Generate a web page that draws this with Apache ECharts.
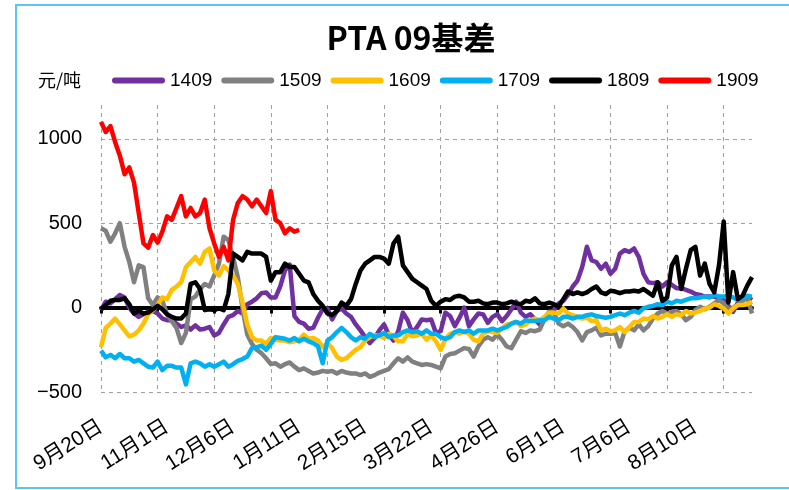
<!DOCTYPE html>
<html lang="zh">
<head>
    <meta charset="UTF-8">
    <title>PTA 09基差</title>
    <script src="https://cdn.jsdelivr.net/npm/echarts/dist/echarts.min.js"></script>
    <style type="text/css">
        *{
            padding: 0px;
            margin: 0px;
            border: 0px;
        }
        #main{
            width: 789px;
            height: 490px;
            background: #fff;
        }
    </style>
</head>
<body>
<div id="main"></div>
<script>

    // 横轴: 按交易日排列, 每14个点标一个日期
    var labelStep = 14;
    var tickStep = 12;
    var tickLabels = ['9月20日', '11月1日', '12月6日', '1月11日', '2月15日', '3月22日', '4月26日', '6月1日', '7月6日', '8月10日'];
    var names = ['1409', '1509', '1609', '1709', '1809', '1909'];
    var colors = ['#7030A0', '#808080', '#FFC000', '#00B0F0', '#000000', '#FF0000'];

    var s1409 = [-15, 35, 25, 50, 75, 60, 0, -35, -55, -40,
        -25, -20, -35, -65, -75, -75, -95, -115, -105, -130,
        -105, -130, -125, -115, -165, -150, -100, -55, -45, -20,
        -35, 20, 35, 55, 85, 90, 60, 60, 125, 220,
        255, -50, -85, -95, -125, -120, -60, -10, -5, -70,
        -20, -5, -35, -55, -100, -135, -175, -210, -180, -135,
        -100, -160, -195, -140, -30, -75, -150, -115, -70, -75,
        -70, -150, -140, -30, -50, -110, -60, 0, -110, -70,
        -35, -40, -90, -55, -40, -80, -50, -10, 35, -30,
        -55, -40, -70, -100, -60, -35, -15, 25, 40, 75,
        125, 160, 240, 360, 280, 270, 230, 260, 200, 230,
        320, 340, 330, 350, 300, 200, 150, 145, 150, 125,
        150, 135, 115, 115, 105, 95, 80, 75, 65, 65,
        65, 55, 45, 10, -25, 30, 65, 65, 45];

    var s1509 = [470, 455, 390, 440, 500, 360, 270, 150, 250, 240,
        55, 15, 60, 40, -40, -80, -120, -210, -150, 50,
        65, 110, 140, 125, 190, 260, 420, 400, 300, 180,
        -5, -160, -215, -250, -270, -300, -335, -330, -350, -335,
        -325, -350, -370, -360, -375, -390, -385, -375, -380, -375,
        -390, -375, -385, -390, -390, -400, -390, -410, -400, -385,
        -375, -365, -330, -300, -320, -295, -320, -330, -340, -335,
        -340, -350, -360, -290, -275, -270, -255, -240, -245, -290,
        -230, -190, -175, -190, -160, -190, -230, -240, -190, -140,
        -150, -135, -140, -130, -70, -25, -30, -95, -110, -95,
        -115, -145, -195, -145, -135, -120, -165, -155, -155, -150,
        -230, -140, -120, -135, -100, -135, -110, -65, -35, -20,
        -35, -25, -20, -40, -75, -55, -15, 5, -10, 5,
        25, 45, 25, -10, 0, 15, 40, 60, -35];

    var s1609 = [-235, -120, -95, -65, -100, -135, -170, -160, -135, -95,
        -40, -15, 15, 60, 50, 105, 125, 150, 240, 270,
        300, 260, 330, 350, 220, 190, 245, 220, 190, 140,
        30, -100, -175, -195, -195, -215, -180, -190, -195, -195,
        -205, -200, -190, -160, -185, -180, -195, -235, -210, -240,
        -290, -310, -300, -275, -250, -235, -195, -175, -165, -165,
        -180, -155, -170, -200, -200, -155, -170, -165, -155, -190,
        -165, -200, -250, -185, -155, -145, -155, -140, -155, -190,
        -200, -155, -140, -145, -150, -125, -100, -95, -85, -110,
        -100, -75, -65, -75, -55, -30, -30, -35, -5, -35,
        -45, -55, -65, -60, -80, -75, -135, -125, -140, -135,
        -115, -145, -115, -85, -85, -65, -70, -50, -65, -55,
        -40, -55, -40, -45, -20, -35, -30, -20, -5, 0,
        20, 10, -5, -35, -5, 15, 15, 20, 35];

    var s1709 = [-255, -295, -280, -300, -275, -300, -300, -320, -310, -330,
        -350, -355, -320, -370, -345, -345, -355, -355, -455, -330,
        -320, -330, -350, -335, -350, -335, -320, -350, -335, -315,
        -305, -290, -240, -235, -225, -250, -215, -175, -180, -185,
        -195, -180, -200, -185, -200, -210, -230, -330, -195, -175,
        -145, -120, -145, -175, -195, -175, -185, -155, -175, -165,
        -150, -175, -165, -165, -145, -135, -145, -140, -155, -135,
        -155, -155, -175, -185, -175, -145, -135, -145, -135, -155,
        -135, -135, -135, -125, -135, -125, -115, -95, -85, -95,
        -75, -80, -80, -75, -75, -55, -65, -75, -55, -55,
        -65, -55, -55, -45, -40, -50, -55, -60, -55, -45,
        -35, -45, -30, -20, -30, -5, 5, 10, 20, 15,
        35, 25, 40, 35, 45, 55, 55, 60, 65, 60,
        75, 65, 65, 70, 60, 45, 60, 70, 65];

    var s1809 = [-10, 15, 40, 45, 45, 55, 20, -35, -20, -35,
        -30, -10, 10, -10, -40, -55, -65, -65, -35, 140,
        150, 110, -15, -10, -15, -5, -15, 80, 320, 300,
        280, 330, 320, 320, 320, 300, 160, 210, 210, 260,
        240, 240, 200, 160, 150, 80, 40, 10, -35, -45,
        -20, 30, 10, 50, 140, 220, 260, 280, 300, 300,
        290, 260, 380, 420, 250, 210, 170, 150, 130, 110,
        40, 10, 35, 50, 45, 65, 70, 60, 35, 35,
        40, 25, 20, 30, 30, 20, 25, 35, 25, 20,
        40, 35, 55, 25, 20, 30, 20, 5, 50, 95,
        80, 90, 80, 90, 110, 125, 90, 80, 100, 95,
        85, 95, 95, 100, 95, 110, 90, 70, 150, 40,
        60, 250, 300, 110, 230, 340, 360, 190, 260, 140,
        90, 250, 510, 30, 210, 50, 70, 130, 180];

    var s1909 = [1100, 1040, 1075, 980, 900, 790, 830, 740, 560, 380,
        355, 430, 385, 450, 540, 520, 590, 660, 540, 590,
        540, 560, 640, 470, 380, 300, 360, 280, 520, 620,
        660, 640, 600, 640, 600, 560, 690, 520, 500, 440,
        470, 450, 460];

    var allData = [s1409, s1509, s1609, s1709, s1809, s1909];

    // 类目: 交易日序号
    var days = [];
    for (var i = 0; i < s1409.length; i++) {
        days.push(i);
    }

    var series = [];
    for (var k = 0; k < names.length; k++) {
        series.push({
            name: names[k],
            type: 'line',
            xAxisIndex: 0,
            data: allData[k],
            symbol: 'none',
            lineStyle: {width: 4.5, color: colors[k], join: 'round'},
            itemStyle: {color: colors[k]},
            z: 3 + k
        });
    }

    var dashed = {color: '#A0A0A0', width: 1, type: [4, 4]};

    var option = {
        animation: false,
        color: colors,
        graphic: [
            {
                type: 'rect',
                silent: true,
                shape: {x: 16, y: 5, width: 800, height: 483},
                style: {fill: 'none', stroke: '#5CC5F0', lineWidth: 2}
            },
            {
                type: 'text',
                x: 411, y: 38,
                style: {
                    text: 'PTA 09基差',
                    font: 'bold 32px "Noto Sans CJK SC"',
                    fill: '#000',
                    align: 'center',
                    verticalAlign: 'middle'
                }
            },
            {
                type: 'text',
                x: 38, y: 80,
                style: {
                    text: '元/吨',
                    font: '18px "Noto Sans CJK SC"',
                    fill: '#000',
                    verticalAlign: 'middle'
                }
            }
        ],
        legend: {
            data: names,
            left: 112,
            top: 71,
            width: 700,
            padding: 0,
            itemWidth: 53,
            itemHeight: 7,
            itemGap: 9,
            icon: 'path://M3,0 L49,0 A3,3 0 0 1 49,6 L3,6 A3,3 0 0 1 3,0 Z',
            textStyle: {
                fontSize: 19,
                color: '#000',
                fontFamily: '"Liberation Sans", sans-serif'
            }
        },
        grid: {
            left: 101,
            right: 37,
            top: 105,
            bottom: 98
        },
        xAxis: [
            {
                // 0轴粗线 + 竖向虚线
                type: 'category',
                data: days,
                position: 'top',
                boundaryGap: false,
                axisLine: {onZero: true, lineStyle: {color: '#000', width: 4}},
                axisTick: {show: true, inside: true, interval: tickStep - 1, length: 6, lineStyle: {color: '#000', width: 3}},
                axisLabel: {show: false},
                splitLine: {show: true, interval: tickStep - 1, lineStyle: dashed}
            },
            {
                // 底部日期标签
                type: 'category',
                data: days,
                position: 'bottom',
                boundaryGap: false,
                axisLine: {show: false, onZero: false},
                axisTick: {show: false},
                splitLine: {show: false},
                axisLabel: {
                    interval: labelStep - 1,
                    rotate: 32,
                    margin: 33,
                    fontSize: 21,
                    color: '#000',
                    fontFamily: '"Liberation Sans", "Noto Sans CJK SC", sans-serif',
                    formatter: function (v, idx) {
                        return tickLabels[idx / labelStep] || '';
                    }
                }
            }
        ],
        yAxis: {
            type: 'value',
            min: -500,
            max: 1200,
            interval: 500,
            axisLine: {show: false},
            axisTick: {show: false},
            axisLabel: {
                showMaxLabel: false,
                margin: 19,
                fontSize: 20,
                color: '#000',
                fontFamily: '"Liberation Sans", sans-serif',
                formatter: function (v) {
                    return String(v).replace('-', '\u2212');
                }
            },
            splitLine: {show: true, showMaxLine: false, lineStyle: dashed}
        },
        series: series
    };

    var chart = echarts.init(document.getElementById('main'));
    chart.setOption(option);

</script>
</body>
</html>
